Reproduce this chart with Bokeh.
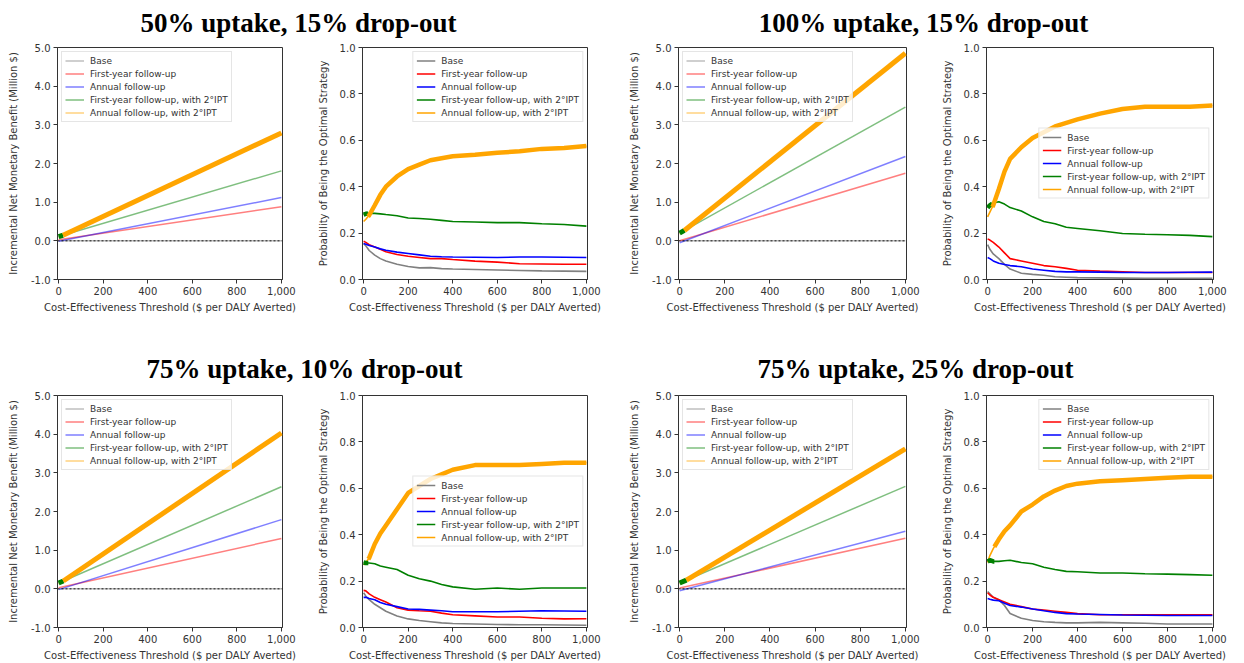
import numpy as np
from bokeh.plotting import figure
from bokeh.layouts import column, row
from bokeh.models import Range1d, FixedTicker, NumeralTickFormatter, Span
from bokeh.core.properties import value
from bokeh.embed import file_html
from bokeh.resources import INLINE

# ---------------- data ----------------
STRATEGIES = ["Base", "First-year follow-up", "Annual follow-up",
              "First-year follow-up, with 2°IPT", "Annual follow-up, with 2°IPT"]
COLORS = ["#808080", "#ff0000", "#0000ff", "#008000", "#ffa500"]
PANEL_TITLES = ["50% uptake, 15% drop-out", "100% uptake, 15% drop-out",
                "75% uptake, 10% drop-out", "75% uptake, 25% drop-out"]
X_TICKS = [0, 200, 400, 600, 800, 1000]
INMB_TICKS = [-1, 0, 1, 2, 3, 4, 5]
PROB_TICKS = [0.0, 0.2, 0.4, 0.6, 0.8, 1.0]
XLABEL = "Cost-Effectiveness Threshold ($ per DALY Averted)"
INMB_LABEL = "Incremental Net Monetary Benefit (Million $)"
PROB_LABEL = "Probability of Being the Optimal Strategy"

# INMB (million $) at thresholds 0 and 1000
THRESHOLD_ENDS = [0, 1000]
inmb_50_15_base = [0.0, 0.0]
inmb_50_15_fy = [0.03, 0.88]
inmb_50_15_ann = [-0.01, 1.12]
inmb_50_15_fy2 = [0.11, 1.81]
inmb_50_15_ann2 = [0.09, 2.79]

inmb_100_15_base = [0.0, 0.0]
inmb_100_15_fy = [0.0, 1.75]
inmb_100_15_ann = [-0.05, 2.18]
inmb_100_15_fy2 = [0.20, 3.46]
inmb_100_15_ann2 = [0.17, 4.85]

inmb_75_10_base = [0.0, 0.0]
inmb_75_10_fy = [0.03, 1.30]
inmb_75_10_ann = [-0.02, 1.79]
inmb_75_10_fy2 = [0.15, 2.64]
inmb_75_10_ann2 = [0.12, 4.03]

inmb_75_25_base = [0.0, 0.0]
inmb_75_25_fy = [0.02, 1.31]
inmb_75_25_ann = [-0.05, 1.49]
inmb_75_25_fy2 = [0.15, 2.65]
inmb_75_25_ann2 = [0.12, 3.62]

# probability of being optimal (CEAC)
THRESHOLDS = [0, 10, 25, 50, 75, 100, 150, 200, 250, 300, 350, 400, 500, 600, 700, 800, 900, 1000]

prob_50_15_base = [0.155, 0.145, 0.125, 0.105, 0.09, 0.08, 0.066, 0.056, 0.05, 0.051, 0.047, 0.045, 0.043, 0.041, 0.039, 0.037, 0.036, 0.035]
prob_50_15_fy = [0.165, 0.16, 0.15, 0.14, 0.13, 0.12, 0.108, 0.10, 0.095, 0.09, 0.09, 0.086, 0.079, 0.075, 0.068, 0.067, 0.066, 0.066]
prob_50_15_ann = [0.155, 0.152, 0.147, 0.14, 0.132, 0.126, 0.118, 0.112, 0.106, 0.10, 0.098, 0.097, 0.096, 0.095, 0.097, 0.097, 0.096, 0.095]
prob_50_15_fy2 = [0.28, 0.283, 0.285, 0.285, 0.283, 0.28, 0.275, 0.265, 0.263, 0.26, 0.255, 0.25, 0.248, 0.245, 0.245, 0.24, 0.237, 0.23]
prob_50_15_ann2 = [0.25, 0.26, 0.277, 0.32, 0.365, 0.40, 0.444, 0.476, 0.495, 0.514, 0.523, 0.531, 0.538, 0.546, 0.553, 0.563, 0.567, 0.575]

prob_100_15_base = [0.15, 0.13, 0.11, 0.09, 0.065, 0.045, 0.027, 0.022, 0.018, 0.012, 0.01, 0.008, 0.007, 0.006, 0.005, 0.005, 0.005, 0.005]
prob_100_15_fy = [0.175, 0.17, 0.16, 0.14, 0.115, 0.09, 0.08, 0.07, 0.06, 0.055, 0.048, 0.04, 0.036, 0.033, 0.03, 0.03, 0.03, 0.03]
prob_100_15_ann = [0.095, 0.09, 0.08, 0.07, 0.065, 0.06, 0.055, 0.045, 0.04, 0.035, 0.033, 0.033, 0.032, 0.03, 0.03, 0.03, 0.031, 0.032]
prob_100_15_fy2 = [0.31, 0.32, 0.33, 0.335, 0.325, 0.31, 0.295, 0.27, 0.25, 0.24, 0.225, 0.22, 0.21, 0.198, 0.195, 0.193, 0.19, 0.185]
prob_100_15_ann2 = [0.27, 0.29, 0.32, 0.39, 0.465, 0.52, 0.57, 0.61, 0.635, 0.66, 0.675, 0.69, 0.715, 0.735, 0.745, 0.745, 0.745, 0.75]

prob_75_10_base = [0.15, 0.135, 0.12, 0.10, 0.085, 0.07, 0.05, 0.037, 0.03, 0.025, 0.02, 0.017, 0.015, 0.013, 0.012, 0.012, 0.011, 0.01]
prob_75_10_fy = [0.16, 0.158, 0.145, 0.13, 0.12, 0.11, 0.085, 0.075, 0.072, 0.07, 0.062, 0.055, 0.05, 0.045, 0.045, 0.04, 0.037, 0.038]
prob_75_10_ann = [0.13, 0.13, 0.125, 0.12, 0.108, 0.10, 0.09, 0.08, 0.078, 0.075, 0.072, 0.068, 0.068, 0.068, 0.07, 0.072, 0.071, 0.07]
prob_75_10_fy2 = [0.28, 0.278, 0.278, 0.275, 0.265, 0.26, 0.25, 0.225, 0.21, 0.20, 0.185, 0.175, 0.165, 0.17, 0.165, 0.17, 0.17, 0.17]
prob_75_10_ann2 = [0.27, 0.28, 0.30, 0.36, 0.405, 0.44, 0.51, 0.58, 0.61, 0.64, 0.66, 0.68, 0.70, 0.70, 0.70, 0.705, 0.71, 0.71]

prob_75_25_base = [0.155, 0.145, 0.13, 0.12, 0.095, 0.06, 0.04, 0.03, 0.025, 0.022, 0.02, 0.02, 0.022, 0.02, 0.018, 0.015, 0.015, 0.015]
prob_75_25_fy = [0.15, 0.14, 0.13, 0.12, 0.11, 0.10, 0.09, 0.08, 0.075, 0.07, 0.065, 0.06, 0.055, 0.055, 0.055, 0.055, 0.055, 0.055]
prob_75_25_ann = [0.125, 0.122, 0.118, 0.115, 0.105, 0.095, 0.088, 0.08, 0.072, 0.065, 0.06, 0.058, 0.056, 0.054, 0.053, 0.052, 0.052, 0.052]
prob_75_25_fy2 = [0.285, 0.29, 0.285, 0.285, 0.288, 0.29, 0.28, 0.275, 0.26, 0.25, 0.242, 0.24, 0.235, 0.235, 0.232, 0.23, 0.228, 0.225]
prob_75_25_ann2 = [0.28, 0.31, 0.34, 0.38, 0.415, 0.44, 0.50, 0.53, 0.565, 0.59, 0.61, 0.62, 0.63, 0.635, 0.64, 0.645, 0.65, 0.65]

PANELS = [
    ([inmb_50_15_base, inmb_50_15_fy, inmb_50_15_ann, inmb_50_15_fy2, inmb_50_15_ann2],
     [prob_50_15_base, prob_50_15_fy, prob_50_15_ann, prob_50_15_fy2, prob_50_15_ann2], "top_right"),
    ([inmb_100_15_base, inmb_100_15_fy, inmb_100_15_ann, inmb_100_15_fy2, inmb_100_15_ann2],
     [prob_100_15_base, prob_100_15_fy, prob_100_15_ann, prob_100_15_fy2, prob_100_15_ann2], "center_right"),
    ([inmb_75_10_base, inmb_75_10_fy, inmb_75_10_ann, inmb_75_10_fy2, inmb_75_10_ann2],
     [prob_75_10_base, prob_75_10_fy, prob_75_10_ann, prob_75_10_fy2, prob_75_10_ann2], "center_right"),
    ([inmb_75_25_base, inmb_75_25_fy, inmb_75_25_ann, inmb_75_25_fy2, inmb_75_25_ann2],
     [prob_75_25_base, prob_75_25_fy, prob_75_25_ann, prob_75_25_fy2, prob_75_25_ann2], "top_right"),
]

# ---------------- layout constants ----------------
FONT = "DejaVu Sans"
TXT = "#333333"
FRAME_H = 232
# (width, border_left, border_right) for the 4 columns
COLS = [(300, 57, 18), (320, 62, 33), (305, 58, 19), (319, 61, 31)]
TITLE_X = [[298, 923], [304, 915]]


def frontier(inmb):
    x0, x1 = THRESHOLD_ENDS
    a = np.array([v[0] for v in inmb])
    b = np.array([(v[1] - v[0]) / (x1 - x0) for v in inmb])
    i0 = int(np.argmax(a))
    i1 = int(np.argmax(a + b * (x1 - x0)))
    if i0 == i1:
        return a, b, [(i0, x0, x1)]
    cross = x0 + (a[i0] - a[i1]) / (b[i1] - b[i0])
    return a, b, [(i0, x0, cross), (i1, cross, x1)]


def style(p, ylabel, yticks, ystandoff):
    p.xaxis.ticker = FixedTicker(ticks=X_TICKS)
    p.xaxis.formatter = NumeralTickFormatter(format="0,0")
    p.yaxis.ticker = FixedTicker(ticks=yticks)
    p.yaxis.formatter = NumeralTickFormatter(format="0.0")
    p.xaxis.axis_label = XLABEL
    p.yaxis.axis_label = ylabel
    for ax in (p.xaxis[0], p.yaxis[0]):
        ax.major_tick_in = 0
        ax.major_tick_out = 4
        ax.minor_tick_line_color = None
        ax.major_label_text_font = FONT
        ax.major_label_text_font_size = "10px"
        ax.major_label_text_color = TXT
        ax.axis_label_text_font = FONT
        ax.axis_label_text_font_size = "10px"
        ax.axis_label_text_font_style = "normal"
        ax.axis_label_text_color = TXT
        ax.axis_line_color = TXT
        ax.major_tick_line_color = TXT
        ax.major_label_standoff = 3
    p.xaxis.axis_label_standoff = 4
    p.yaxis.axis_label_standoff = ystandoff
    p.grid.visible = False
    p.outline_line_color = TXT
    p.outline_line_alpha = 1.0


def style_legend(p, loc):
    lg = p.legend[0]
    lg.location = loc
    lg.margin = 4
    lg.padding = 3
    lg.spacing = 2
    lg.label_height = 11
    lg.glyph_height = 11
    lg.glyph_width = 19
    lg.label_standoff = 6
    lg.label_text_font = FONT
    lg.label_text_font_size = "9px"
    lg.label_text_color = TXT
    lg.border_line_color = "#cccccc"
    lg.background_fill_alpha = 0.8


def make_fig(col, bottom):
    w, bl, br = COLS[col]
    return figure(width=w, height=7 + FRAME_H + bottom, output_backend="svg",
                  toolbar_location=None, min_border_left=bl, min_border_right=br,
                  min_border_top=7, min_border_bottom=bottom,
                  x_range=Range1d(-5, 1005))


def inmb_fig(col, bottom, inmb):
    p = make_fig(col, bottom)
    p.y_range = Range1d(-1, 5)
    for name, c, vals in zip(STRATEGIES, COLORS, inmb):
        p.line(THRESHOLD_ENDS, vals, line_color=c, line_alpha=0.5, line_width=1.5, legend_label=name)
    a, b, segs = frontier(inmb)
    for i, s, e in segs:
        xs = [s, e]
        ys = [a[i] + b[i] * (s - THRESHOLD_ENDS[0]), a[i] + b[i] * (e - THRESHOLD_ENDS[0])]
        p.line(xs, ys, line_color=COLORS[i], line_width=5)
    p.add_layout(Span(location=0, dimension="width", line_color="black",
                      line_dash="2 2", line_width=1, line_alpha=0.9))
    style(p, INMB_LABEL, INMB_TICKS, 9)
    style_legend(p, "top_left")
    return p


def prob_fig(col, bottom, inmb, probs, loc):
    p = make_fig(col, bottom)
    p.y_range = Range1d(0, 1)
    for name, c, vals in zip(STRATEGIES, COLORS, probs):
        p.line(THRESHOLDS, vals, line_color=c, line_width=1.6, legend_label=name)
    _, _, segs = frontier(inmb)
    t = np.array(THRESHOLDS, dtype=float)
    for i, s, e in segs:
        y = np.array(probs[i], dtype=float)
        inner = (t > s) & (t < e)
        xs = np.concatenate([[s], t[inner], [e]])
        ys = np.concatenate([[np.interp(s, t, y)], y[inner], [np.interp(e, t, y)]])
        p.line(xs, ys, line_color=COLORS[i], line_width=4.5)
    style(p, PROB_LABEL, PROB_TICKS, 8)
    style_legend(p, loc)
    return p


def title_fig(height, ymid, xs, titles):
    p = figure(width=1244, height=height, output_backend="svg", toolbar_location=None,
               x_range=Range1d(0, 1244), y_range=Range1d(0, height),
               min_border=0, outline_line_color=None)
    p.axis.visible = False
    p.grid.visible = False
    p.text(x=xs, y=[ymid] * len(xs), text=titles, text_font=value("Liberation Serif"),
           text_font_style="bold", text_font_size="27px", text_color="black",
           text_align="center", text_baseline="middle")
    return p


rows = []
for r, bottom in enumerate([60, 36]):
    figs = []
    for k in range(2):
        inmb, probs, loc = PANELS[2 * r + k]
        figs.append(inmb_fig(2 * k, bottom, inmb))
        figs.append(prob_fig(2 * k + 1, bottom, inmb, probs, loc))
    rows.append(row(*figs, spacing=0))

t1 = title_fig(40, 18, TITLE_X[0], PANEL_TITLES[0:2])
t2 = title_fig(49, 20, TITLE_X[1], PANEL_TITLES[2:4])

page = column(t1, rows[0], t2, rows[1], spacing=0)
open("out.html", "w").write(file_html(page, INLINE))
